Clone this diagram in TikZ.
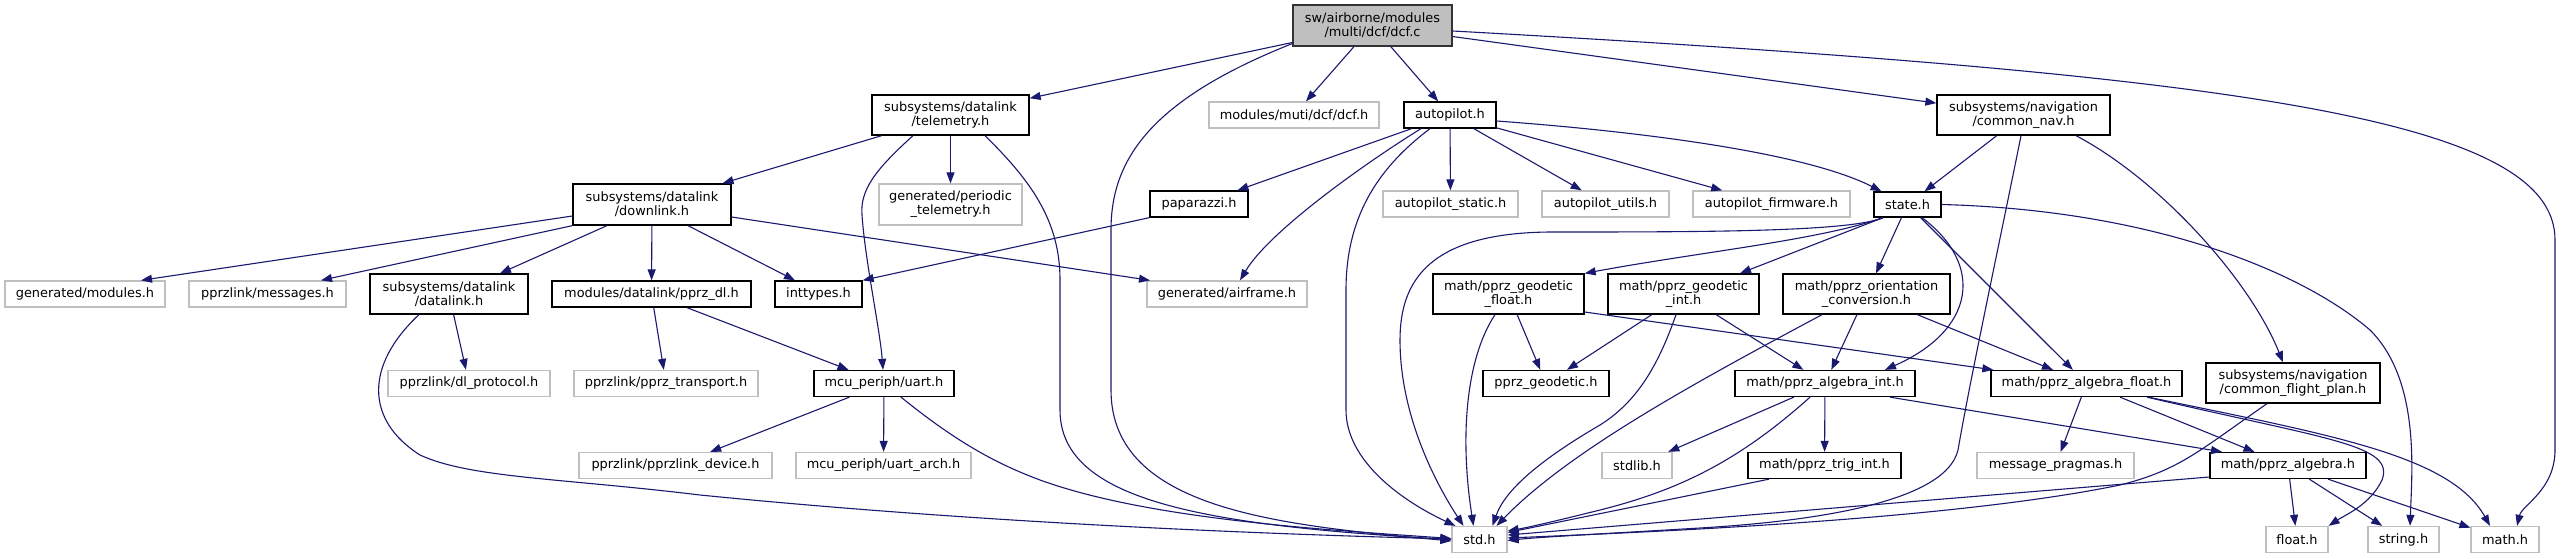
\documentclass[tikz,border=0pt]{standalone}
\usepackage{fontspec}
\setmainfont{DejaVu Sans}
\usetikzlibrary{arrows.meta}
\definecolor{edgec}{HTML}{191970}
\definecolor{undocc}{HTML}{BFBFBF}
\definecolor{rootfill}{HTML}{BFBFBF}
\begin{document}
\begin{tikzpicture}[x=1pt,y=-1pt,
 base/.style={draw, inner sep=0pt, align=center, font=\fontsize{12.9}{14}\selectfont, line width=1.3pt},
 doc/.style={base, draw=black, fill=white},
 undoc/.style={base, draw=undocc, fill=white},
 root/.style={base, draw=black!80, fill=rootfill},
 e/.style={draw=edgec, line width=1.1pt, -{Triangle[length=11pt,width=8pt]}}
]
\fill[white] (0,0) rectangle (2561,559);
\useasboundingbox (0,0) rectangle (2561,559);

% row 0
\node[root, minimum width=159pt, minimum height=41pt] (dcf) at (1372.5,25.5) {sw/airborne/modules\\/multi/dcf/dcf.c};
% row 1
\node[doc, minimum width=157pt, minimum height=40pt] (tel) at (950.5,115) {subsystems/datalink\\/telemetry.h};
\node[undoc, minimum width=170pt, minimum height=26pt] (dcfh) at (1294,115) {modules/muti/dcf/dcf.h};
\node[doc, minimum width=92pt, minimum height=26pt] (ap) at (1450,115) {autopilot.h};
\node[doc, minimum width=173pt, minimum height=40pt] (nav) at (2023.5,115) {subsystems/navigation\\/common\_nav.h};
% row 2
\node[doc, minimum width=158pt, minimum height=41pt] (dl) at (652,204.5) {subsystems/datalink\\/downlink.h};
\node[undoc, minimum width=143pt, minimum height=41pt] (per) at (950.5,204.5) {generated/periodic\\\_telemetry.h};
\node[doc, minimum width=98pt, minimum height=26pt] (pap) at (1199,204) {paparazzi.h};
\node[undoc, minimum width=135pt, minimum height=26pt] (aps) at (1450.5,204) {autopilot\_static.h};
\node[undoc, minimum width=127pt, minimum height=26pt] (apu) at (1605.5,204) {autopilot\_utils.h};
\node[undoc, minimum width=157pt, minimum height=26pt] (apf) at (1771.5,204) {autopilot\_firmware.h};
\node[doc, minimum width=67pt, minimum height=25pt] (st) at (1907.5,204.5) {state.h};
% row 3
\node[undoc, minimum width=160pt, minimum height=26pt] (gmod) at (85,294) {generated/modules.h};
\node[undoc, minimum width=157pt, minimum height=26pt] (msg) at (267.5,294) {pprzlink/messages.h};
\node[doc, minimum width=158pt, minimum height=40pt] (dlk) at (449,294) {subsystems/datalink\\/datalink.h};
\node[doc, minimum width=199pt, minimum height=26pt] (pdl) at (651.5,294) {modules/datalink/pprz\_dl.h};
\node[doc, minimum width=87pt, minimum height=26pt] (int) at (818.5,294) {inttypes.h};
\node[undoc, minimum width=160pt, minimum height=26pt] (afr) at (1227,294) {generated/airframe.h};
\node[doc, minimum width=151pt, minimum height=40pt] (gf) at (1508.5,294) {math/pprz\_geodetic\\\_float.h};
\node[doc, minimum width=151pt, minimum height=40pt] (gi) at (1683.5,294) {math/pprz\_geodetic\\\_int.h};
\node[doc, minimum width=167pt, minimum height=40pt] (oc) at (1866.5,294) {math/pprz\_orientation\\\_conversion.h};
% row 4
\node[undoc, minimum width=162pt, minimum height=26pt] (dlp) at (469,383.5) {pprzlink/dl\_protocol.h};
\node[undoc, minimum width=184pt, minimum height=26pt] (ptr) at (666,383.5) {pprzlink/pprz\_transport.h};
\node[doc, minimum width=140pt, minimum height=26pt] (uart) at (884,383.5) {mcu\_periph/uart.h};
\node[doc, minimum width=126pt, minimum height=26pt] (pg) at (1546,383.5) {pprz\_geodetic.h};
\node[doc, minimum width=180pt, minimum height=26pt] (ai) at (1825,383.5) {math/pprz\_algebra\_int.h};
\node[doc, minimum width=191pt, minimum height=26pt] (af) at (2086.5,383.5) {math/pprz\_algebra\_float.h};
\node[doc, minimum width=174pt, minimum height=40pt] (cfp) at (2293,383) {subsystems/navigation\\/common\_flight\_plan.h};
% row 5
\node[undoc, minimum width=193pt, minimum height=26pt] (pdev) at (675.5,465.5) {pprzlink/pprzlink\_device.h};
\node[undoc, minimum width=175pt, minimum height=26pt] (uarch) at (883.5,465.5) {mcu\_periph/uart\_arch.h};
\node[undoc, minimum width=70pt, minimum height=26pt] (stdlib) at (1637,465.5) {stdlib.h};
\node[doc, minimum width=153pt, minimum height=26pt] (trig) at (1824.5,465.5) {math/pprz\_trig\_int.h};
\node[undoc, minimum width=157pt, minimum height=26pt] (mp) at (2055.5,465.5) {message\_pragmas.h};
\node[doc, minimum width=156pt, minimum height=26pt] (alg) at (2288,465.5) {math/pprz\_algebra.h};
% row 6
\node[undoc, minimum width=55pt, minimum height=26pt] (std) at (1479.5,539.5) {std.h};
\node[undoc, minimum width=62pt, minimum height=26pt] (flt) at (2297,539.5) {float.h};
\node[undoc, minimum width=71pt, minimum height=26pt] (str) at (2403.5,539.5) {string.h};
\node[undoc, minimum width=68pt, minimum height=26pt] (math) at (2505,539.5) {math.h};

% dcf.c
\draw[e] (dcf) -- (tel);
\draw[e] (dcf) -- (dcfh);
\draw[e] (dcf) -- (ap);
\draw[e] (dcf) -- (nav);
\draw[e] ([yshift=-5.5pt]dcf.east) .. controls (2250,75) and (2555,120) .. (2555,240) -- (2555,450) .. controls (2555,490) and (2522,505) .. ([xshift=12pt]math.north);
\draw[e] ([shift={(-80,18)}]dcf.center) .. controls (1150,100) and (1111,160) .. (1111,230) -- (1111,390) .. controls (1111,510) and (1280,525) .. ([yshift=-1.5pt]std.west);
% telemetry
\draw[e] (tel) -- (dl);
\draw[e] (tel) -- (per);
\draw[e] ([xshift=-37.5pt]tel.south) .. controls (875,170) and (860,190) .. (862,215) .. controls (865,260) and (880,330) .. ([xshift=-1pt]uart.north);
\draw[e] ([xshift=34.5pt]tel.south) .. controls (1030,180) and (1060,220) .. (1060,280) -- (1060,410) .. controls (1060,500) and (1200,525) .. (std.west);
% downlink
\draw[e] ([yshift=-11.5pt]dl.west) -- ([xshift=56pt]gmod.north);
\draw[e] (dl.south west) -- ([xshift=53.5pt]msg.north);
\draw[e] ([xshift=-45pt]dl.south) -- ([xshift=51pt]dlk.north);
\draw[e] (dl) -- (pdl);
\draw[e] ([xshift=36pt]dl.south) -- ([xshift=-23.5pt]int.north);
\draw[e] ([yshift=-12.5pt]dl.east) -- ([xshift=-77pt]afr.north);
% datalink
\draw[e] (dlk) -- (dlp);
\draw[e] ([xshift=-30pt]dlk.south) .. controls (365,365) and (365,420) .. (420,455) .. controls (470,478) and (560,478) .. (700,495) .. controls (1000,525) and (1300,535) .. ([yshift=0.5pt]std.west);
% pprz_dl
\draw[e] (pdl) -- (ptr);
\draw[e] (pdl) -- (uart);
% uart
\draw[e] (uart) -- (pdev);
\draw[e] (uart) -- (uarch);
\draw[e] ([xshift=17pt]uart.south) .. controls (960,445) and (1000,465) .. (1040,480) .. controls (1150,520) and (1330,530) .. ([yshift=1pt]std.west);
% autopilot
\draw[e] (ap) -- (pap);
\draw[e] ([xshift=-29pt]ap.south) .. controls (1370,160) and (1270,230) .. ([xshift=13pt]afr.north);
\draw[e] ([xshift=-20pt]ap.south) .. controls (1375,170) and (1346,220) .. (1346,290) -- (1346,410) .. controls (1346,460) and (1400,500) .. ([xshift=-24pt]std.north);
\draw[e] (ap) -- (aps);
\draw[e] (ap) -- (apu);
\draw[e] (ap) -- (apf);
\draw[e] ([yshift=-6pt]ap.east) .. controls (1620,130) and (1800,150) .. ([xshift=-26pt]st.north);
% paparazzi
\draw[e] (pap.south west) -- (int.north east);
% common_nav
\draw[e] (nav) -- (st);
\draw[e] ([xshift=-2.5pt]nav.south) .. controls (2000,240) and (1970,380) .. (1958,450) .. controls (1945,505) and (1800,522) .. (1700,528) .. controls (1600,534) and (1540,537) .. ([yshift=-1pt]std.east);
\draw[e] ([xshift=52.5pt]nav.south) .. controls (2160,180) and (2250,280) .. ([xshift=-10pt]cfp.north);
% state
\draw[e] ([xshift=-24.5pt]st.south) .. controls (1850,232) and (1700,232) .. (1550,232) .. controls (1430,233) and (1400,280) .. (1400,340) .. controls (1400,420) and (1440,490) .. ([xshift=-16pt]std.north);
\draw[e] ([xshift=-24.5pt]st.south) .. controls (1820,240) and (1700,252) .. (gf.north east);
\draw[e] ([xshift=-24.5pt]st.south) -- ([xshift=56.5pt]gi.north);
\draw[e] (st) -- (oc);
\draw[e] ([xshift=14.5pt]st.south) .. controls (1985,265) and (1975,330) .. ([xshift=60pt]ai.north);
\draw[e] (st) -- (af);
\draw[e] (st.east) .. controls (2150,210) and (2300,270) .. (2370,330) .. controls (2420,380) and (2412,470) .. ([xshift=6.5pt]str.north);
% geodetic float
\draw[e] (gf) -- (pg);
\draw[e] ([xshift=-13.5pt]gf.south) .. controls (1465,360) and (1460,440) .. ([xshift=-6pt]std.north);
\draw[e] ([yshift=-18pt]gf.east) -- ([xshift=3pt]af.north west);
% geodetic int
\draw[e] (gi) -- (pg);
\draw[e] ([xshift=-7.5pt]gi.south) .. controls (1660,360) and (1640,400) .. (1600,425) .. controls (1540,460) and (1505,490) .. ([xshift=13pt]std.north);
\draw[e] (gi) -- (ai);
% orientation
\draw[e] (oc) -- (ai);
\draw[e] (oc) -- (af);
\draw[e] ([xshift=-44.5pt]oc.south) .. controls (1700,380) and (1570,450) .. ([xshift=17pt]std.north);
% algebra int
\draw[e] (ai) -- (stdlib);
\draw[e] ([xshift=-15pt]ai.south) .. controls (1740,460) and (1680,490) .. (1600,510) .. controls (1560,520) and (1530,527) .. ([yshift=8.5pt]std.east);
\draw[e] (ai) -- (trig);
\draw[e] ([xshift=65pt]ai.south) -- ([xshift=-66pt]alg.north);
% trig
\draw[e] ([xshift=-55.5pt]trig.south) -- ([yshift=7pt]std.east);
% algebra float
\draw[e] (af) -- (mp);
\draw[e] (af) -- (alg);
\draw[e] ([xshift=60.5pt]af.south) .. controls (2330,440) and (2395,445) .. (2382,480) .. controls (2370,505) and (2345,515) .. (flt.north east);
\draw[e] ([xshift=62pt]af.south) .. controls (2330,435) and (2450,455) .. ([xshift=-15pt]math.north);
% algebra
\draw[e] ([yshift=-11.5pt]alg.west) -- ([yshift=4.5pt]std.east);
\draw[e] (alg) -- (flt);
\draw[e] (alg) -- (str);
\draw[e] (alg) -- (math);
% common flight plan
\draw[e] ([xshift=-26pt]cfp.south) .. controls (2200,450) and (2180,470) .. (2120,485) .. controls (1950,520) and (1650,532) .. ([yshift=1.5pt]std.east);
\end{tikzpicture}
\end{document}
